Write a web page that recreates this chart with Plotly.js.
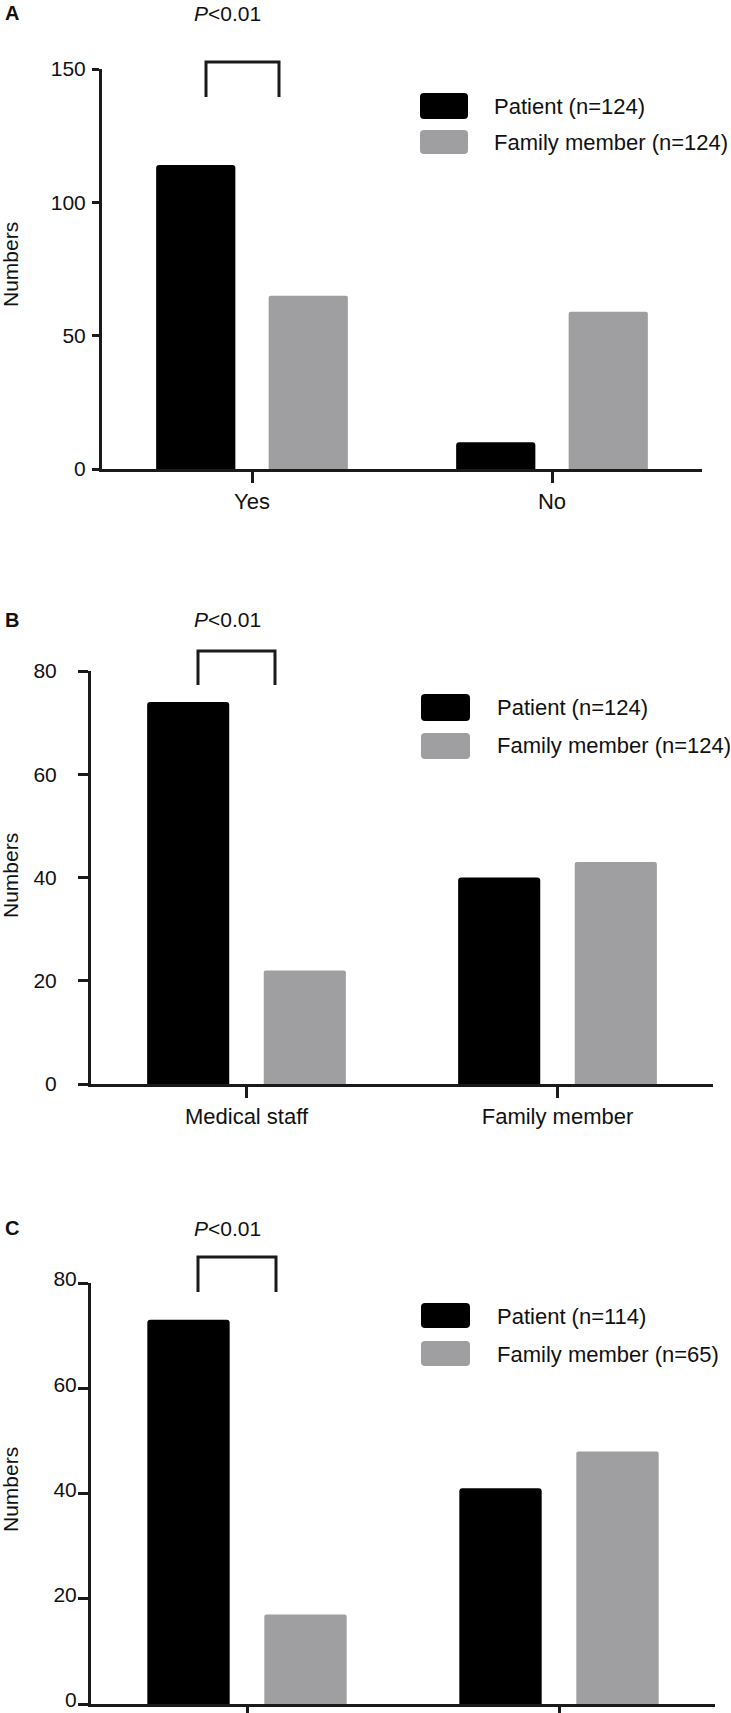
<!DOCTYPE html>
<html>
<head>
<meta charset="utf-8">
<script src="https://cdn.plot.ly/plotly-3.0.1.min.js"></script>
<style>html,body{margin:0;padding:0;background:#fff;}#chart{width:731px;height:1713px;}</style>
</head>
<body>
<div id="chart"></div>
<script>
// ---- data ----
const catsA = ['Yes', 'No'];
const patientA = [114, 10];
const familyA = [65, 59];

const catsB = ['Medical staff', 'Family member'];
const patientB = [74, 40];
const familyB = [22, 43];

const catsC = ['Medical staff', 'Family member'];
const patientC = [73, 41];
const familyC = [17, 48];

const legendA = ['Patient (n=124)', 'Family member (n=124)'];
const legendB = ['Patient (n=124)', 'Family member (n=124)'];
const legendC = ['Patient (n=114)', 'Family member (n=65)'];

const yTicksA = [0, 50, 100, 150];
const yTicksB = [0, 20, 40, 60, 80];
const yTicksC = [0, 20, 40, 60, 80];

const panelLabels = ['A', 'B', 'C'];
const pText = '<i>P</i>&lt;0.01';
const yTitle = 'Numbers';

// ---- styling / geometry ----
const W = 731, H = 1713;
const BLACK = '#000000', GRAY = '#9f9fa1', INK = '#1a1a1a';
const FONT = 'Arial, "Liberation Sans", Helvetica, sans-serif';
const px = x => x / W;
const py = y => 1 - y / H;
const P = (x, y) => px(x).toFixed(5) + ',' + py(y).toFixed(5);

function rrect(x0, y0, x1, y1, r) {
  return 'M' + P(x0 + r, y0) + ' L' + P(x1 - r, y0) + ' Q' + P(x1, y0) + ' ' + P(x1, y0 + r) +
    ' L' + P(x1, y1 - r) + ' Q' + P(x1, y1) + ' ' + P(x1 - r, y1) +
    ' L' + P(x0 + r, y1) + ' Q' + P(x0, y1) + ' ' + P(x0, y1 - r) +
    ' L' + P(x0, y0 + r) + ' Q' + P(x0, y0) + ' ' + P(x0 + r, y0) + ' Z';
}
function bracket(xl, xr, yt, yb) {
  return 'M' + P(xl, yb) + ' L' + P(xl, yt) + ' L' + P(xr, yt) + ' L' + P(xr, yb);
}

const panels = [
  {cats: catsA, pat: patientA, fam: familyA, leg: legendA, ticks: yTicksA, range: [0, 150],
   xd: [102, 702], yd: [69, 469], yticklen: 7, ystand: 2, yshift: 0,
   br: [206, 279, 62, 97], labY: 13, legBox: [420, 468, 93, 119, 130, 154], legTx: 492, legTy: [106, 142],
   titleY: 265, showX: true},
  {cats: catsB, pat: patientB, fam: familyB, leg: legendB, ticks: yTicksB, range: [0, 80],
   xd: [91, 713], yd: [671, 1084], yticklen: 10, ystand: 17, yshift: 0,
   br: [198, 275, 651, 685], labY: 620, legBox: [421, 470, 694, 721, 733, 759], legTx: 495, legTy: [707, 746],
   titleY: 876, showX: true},
  {cats: catsC, pat: patientC, fam: familyC, leg: legendC, ticks: yTicksC, range: [0, 80],
   xd: [91, 715], yd: [1283, 1704], yticklen: 10, ystand: -3, yshift: -4,
   br: [198, 276, 1257, 1292], labY: 1228, legBox: [421, 470, 1303, 1328, 1341, 1366], legTx: 495, legTy: [1316, 1354],
   titleY: 1490, showX: false}
];

const data = [];
const layout = {
  width: W, height: H,
  margin: {l: 0, r: 0, t: 0, b: 0, pad: 0},
  paper_bgcolor: '#ffffff', plot_bgcolor: 'rgba(0,0,0,0)',
  barmode: 'group', bargap: 0.25, bargroupgap: 0.296,
  showlegend: false,
  font: {family: FONT, color: '#111111', size: 21},
  shapes: [], annotations: []
};

panels.forEach((p, i) => {
  const sfx = i === 0 ? '' : String(i + 1);
  const xa = 'x' + sfx, ya = 'y' + sfx;
  data.push({type: 'bar', x: p.cats, y: p.pat, name: p.leg[0], xaxis: xa, yaxis: ya,
    marker: {color: BLACK, line: {width: 0}, cornerradius: 3}, hoverinfo: 'x+y'});
  data.push({type: 'bar', x: p.cats, y: p.fam, name: p.leg[1], xaxis: xa, yaxis: ya,
    marker: {color: GRAY, line: {width: 0}, cornerradius: 2}, hoverinfo: 'x+y'});

  layout['xaxis' + sfx] = {
    domain: [px(p.xd[0]), px(p.xd[1])], anchor: ya, type: 'category', range: [-0.5, 1.5],
    showline: true, linecolor: INK, linewidth: 3, ticks: 'outside', ticklen: 11, tickwidth: 3, tickcolor: INK,
    showgrid: false, zeroline: false, automargin: false, showticklabels: p.showX,
    tickfont: {size: 22, family: FONT, color: '#111111'}, fixedrange: true
  };
  layout['yaxis' + sfx] = {
    domain: [py(p.yd[1]), py(p.yd[0])], anchor: xa, range: p.range,
    tickmode: 'array', tickvals: p.ticks, ticktext: p.ticks.map(String),
    showline: true, linecolor: INK, linewidth: 3, ticks: 'outside', ticklen: p.yticklen, tickwidth: 3, tickcolor: INK,
    ticklabelstandoff: p.ystand, ticklabelshift: p.yshift, ticklabeloverflow: 'allow',
    showgrid: false, zeroline: false, automargin: false,
    tickfont: {size: 21, family: FONT, color: '#111111'}, fixedrange: true
  };

  // significance bracket
  layout.shapes.push({type: 'path', xref: 'paper', yref: 'paper', path: bracket(...p.br),
    line: {color: INK, width: 3}});
  // legend boxes
  const b = p.legBox;
  layout.shapes.push({type: 'path', xref: 'paper', yref: 'paper', path: rrect(b[0], b[2], b[1], b[3], 4),
    fillcolor: BLACK, line: {width: 0}});
  layout.shapes.push({type: 'path', xref: 'paper', yref: 'paper', path: rrect(b[0], b[4], b[1], b[5], 4),
    fillcolor: GRAY, line: {width: 0}});
  // legend texts
  p.leg.forEach((t, k) => layout.annotations.push({
    xref: 'paper', yref: 'paper', x: px(p.legTx), y: py(p.legTy[k]), xanchor: 'left', yanchor: 'middle',
    text: t, showarrow: false, font: {size: 22, family: FONT, color: '#111111'}
  }));
  // panel letter
  layout.annotations.push({xref: 'paper', yref: 'paper', x: px(3), y: py(p.labY), xanchor: 'left', yanchor: 'middle',
    text: '<b>' + panelLabels[i] + '</b>', showarrow: false, font: {size: 20, family: FONT, color: '#111111'}});
  // P value
  layout.annotations.push({xref: 'paper', yref: 'paper', x: px(227), y: py(p.labY), xanchor: 'center', yanchor: 'middle',
    text: pText, showarrow: false, font: {size: 21, family: FONT, color: '#111111'}});
  // y title
  layout.annotations.push({xref: 'paper', yref: 'paper', x: px(10), y: py(p.titleY), xanchor: 'center', yanchor: 'middle',
    text: yTitle, textangle: -90, showarrow: false, font: {size: 21, family: FONT, color: '#111111'}});
});

Plotly.newPlot('chart', data, layout, {staticPlot: true, displayModeBar: false});
</script>
</body>
</html>
